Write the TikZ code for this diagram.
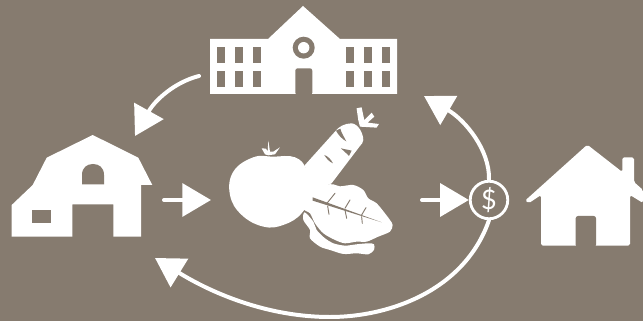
\documentclass[tikz,border=0pt]{standalone}
\usepackage{fontspec}
\newfontfamily\coinfont{Lato}
\usetikzlibrary{arrows.meta}
\definecolor{bgbrown}{HTML}{867B6F}
\tikzset{
	icon/.style={fill=white,draw=none},
	hole/.style={fill=bgbrown,draw=none},
	vein/.style={draw=bgbrown,line width=.8pt,line cap=round},
	flowline/.style={draw=white,line width=3.4pt,line cap=round},
	flow/.style={flowline,-{Triangle[length=24.5pt,width=28pt]}},
	coinring/.style={circle,draw=white,fill=bgbrown,line width=2.4pt,minimum size=32pt,inner sep=0pt,text=white,font=\coinfont\fontsize{23}{23}\selectfont}
}
\begin{document}
\begin{tikzpicture}[x=.03cm,y=-.03cm]
	\useasboundingbox[fill=bgbrown] (0,0) rectangle (643,321);

	\fill[icon] (210,39) -- (268,39) -- (303,6) -- (340,39) -- (397,39) -- (397,94) -- (210,94) -- cycle;
	\foreach \wx in {217.3,235.3,253,346,364,381.7} {
		\fill[hole] (\wx,47) rectangle +(8,15.7);
		\fill[hole] (\wx,71) rectangle +(8,15.7);
	}
	\fill[hole] (303.7,47.7) circle (11);
	\fill[icon] (303.7,47.7) circle (5.7);
	\fill[hole,rounded corners=2pt] (295.3,95) -- (295.3,68.3) -- (312.3,68.3) -- (312.3,95) -- cycle;

	\fill[icon] (11.7,205) -- (32.7,185) -- (46.7,157.7) -- (92.7,135) -- (138.3,157.7) -- (152.3,185) -- (141,185) -- (141,236.7) -- (113.3,236.7) -- (113.3,204.3) -- (72.3,204.3) -- (72.3,236.7) -- (11.7,236.7) -- cycle;
	\fill[hole] (32.3,210.3) rectangle (50.7,223);
	\fill[hole] (82,184.3) -- (82,175) .. controls (82,167.5) and (87,164) .. (93,164) .. controls (99,164) and (104,167.5) .. (104,175) -- (104,184.3) -- cycle;

	\fill[icon,rounded corners=1.5pt] (525,200.7) -- (587.3,144.7) -- (622.3,172) -- (622.3,157.3) -- (634,157.3) -- (634,182) -- (643,190) -- (643,203) -- (630,195) -- (630,245.7) -- (541,245.7) -- (541,195) -- (529,203) -- cycle;
	\fill[hole,rounded corners=2pt] (575.7,247) -- (575.7,216) -- (596,216) -- (596,247) -- cycle;

	\begin{scope}[shift={(300,175)},x=.01cm,y=-.01cm]
		\fill[icon] plot[smooth cycle,tension=.5] coordinates {(75,30) (100,28) (120,34) (160,30) (190,45) (205,70) (230,85) (255,115) (270,135) (278,150) (270,170) (235,185) (200,200) (170,200) (135,205) (105,195) (70,175) (45,145) (30,115) (10,100) (20,50)};
		\fill[icon] plot[smooth cycle,tension=.5] coordinates {(14,112) (40,140) (50,165) (75,190) (100,205) (135,212) (170,208) (205,205) (222,208) (222,225) (205,238) (170,235) (130,237) (90,225) (60,215) (30,190) (30,165) (10,135)};
		\fill[hole] (38,67) -- (245,142) -- (38,77) -- cycle;
		\draw[vein] (80,86) -- (105,55);
		\draw[vein] (83,93) -- (87,118);
		\draw[vein] (135,100) -- (150,75);
		\draw[vein] (135,105) -- (140,130);
		\draw[vein] (185,120) -- (198,98);
		\draw[vein] (185,125) -- (187,145);
	\end{scope}

	\begin{scope}[shift={(255,100)},x=.01cm,y=-.01cm]
		\fill[icon] (150,195) -- (240,95) .. controls (250,80) and (270,70) .. (290,70) .. controls (310,72) and (325,100) .. (325,120) .. controls (325,128) and (320,132) .. (315,138) -- (230,250) -- (160,280) -- cycle;
		\fill[hole] (243,92) -- (256,86) .. controls (260,100) and (268,112) .. (274,124) .. controls (262,118) and (250,105) .. cycle;
		\fill[hole] (258,145) .. controls (270,148) and (282,150) .. (290,152) -- (282,168) .. controls (275,160) and (265,152) .. cycle;
		\fill[hole] (208,165) .. controls (218,168) and (228,178) .. (234,190) .. controls (224,186) and (214,176) .. cycle;
		\fill[icon] (305,25) -- (320,22) -- (328,60) -- (350,38) -- (358,50) -- (338,68) -- (372,72) -- (365,83) -- (315,80) -- (310,60) -- cycle;
		\fill[icon] (20,145) -- (33,146) -- (38,155) -- (40,122) -- (45,155) -- (55,155) -- (75,142) -- (60,163) -- (40,166) -- (30,163) -- cycle;
	\end{scope}

	\begin{scope}[shift={(220,100)},x=.01cm,y=-.01cm]
		\fill[icon] plot[smooth cycle,tension=.7] coordinates {(100,172) (160,170) (225,172) (260,210) (270,280) (245,340) (190,375) (130,380) (65,345) (30,285) (40,215)};
	\end{scope}

	\node[coinring] (coin) at (489,200) {\$};

	\coordinate (schoolout) at (199,76);
	\coordinate (barnin) at (135,136);
	\coordinate (barnout) at (164,200);
	\coordinate (vegin) at (211,200);
	\coordinate (vegout) at (422,200);
	\coordinate (schoolin) at (424,96);
	\coordinate (farmin) at (155,258);
	\coordinate (arcmid) at (330,317);

	\draw[flow] (schoolout) .. controls (175,82) and (155,100) .. (barnin);
	\draw[flow] (barnout) -- (vegin);
	\draw[flow] (vegout) -- (coin.west);
	\draw[flow] (coin.north) .. controls (490,150) and (465,120) .. (schoolin);
	\draw[flowline] (coin.south) .. controls (465,290) and (390,317) .. (arcmid);
	\draw[flow] (arcmid) .. controls (270,317) and (215,295) .. (farmin);
\end{tikzpicture}
\end{document}
